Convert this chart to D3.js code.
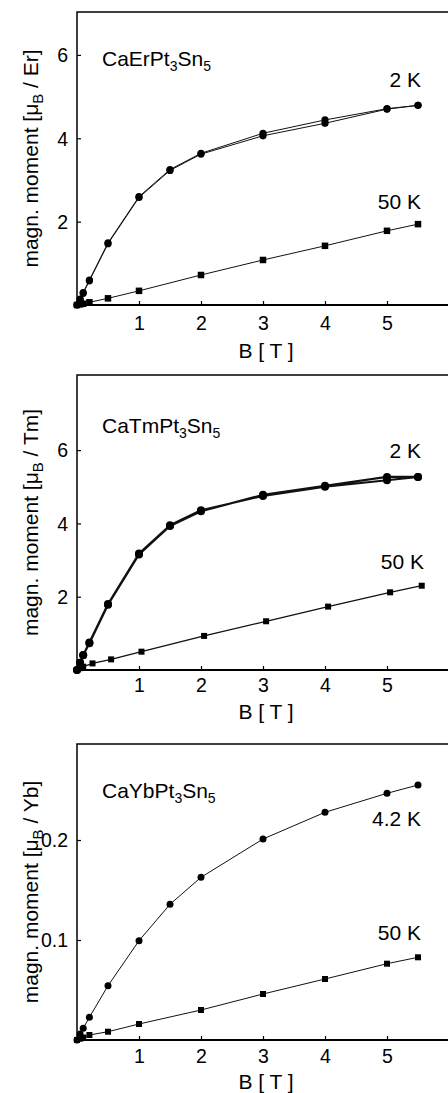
<!DOCTYPE html>
<meta charset="utf-8">
<style>
body { margin: 0; background: #fff; }
svg { display: block; }
text { font-family: "Liberation Sans", Arial, sans-serif; fill: #000; }
.axis path { display: none; }
.axis line { stroke: #000; stroke-width: 1.2; }
.axis text { font-size: 19.5px; }
</style>
<svg width="448" height="1093"></svg>
<script src="https://cdn.jsdelivr.net/npm/d3@7/dist/d3.min.js"></script>
<script>

// ---- data ----
// CaErPt3Sn5
var erUpB = [0, 0.05, 0.1, 0.2, 0.5, 1, 1.5, 2, 3, 4, 5, 5.5];
var erUp2K = [0, 0.12, 0.28, 0.58, 1.47, 2.58, 3.23, 3.62, 4.06, 4.36, 4.70, 4.79];
var erDownB = [5.5, 5, 4, 3, 2, 1.5, 1, 0.5, 0.2, 0.1, 0.05, 0];
var erDown2K = [4.79, 4.71, 4.44, 4.12, 3.64, 3.25, 2.60, 1.49, 0.60, 0.30, 0.14, 0];
var er50B = [0, 0.05, 0.1, 0.2, 0.5, 1, 2, 3, 4, 5, 5.5];
var er50K = [0, 0.015, 0.03, 0.065, 0.16, 0.34, 0.72, 1.08, 1.42, 1.78, 1.94];

// CaTmPt3Sn5
var tmUpB = [0, 0.05, 0.1, 0.2, 0.5, 1, 1.5, 2, 3, 4, 5, 5.5];
var tmUp2K = [0, 0.2, 0.41, 0.75, 1.80, 3.18, 3.95, 4.36, 4.75, 5.00, 5.18, 5.27];
var tmDownB = [5.5, 5, 4, 3, 2, 1.5, 1, 0.5, 0.2, 0.1, 0.05, 0];
var tmDown2K = [5.27, 5.27, 5.03, 4.78, 4.33, 3.93, 3.15, 1.78, 0.73, 0.40, 0.2, 0];
var tm50B = [0, 0.05, 0.1, 0.25, 0.55, 1.04, 2.05, 3.05, 4.05, 5.05, 5.56];
var tm50K = [0, 0.05, 0.09, 0.18, 0.29, 0.50, 0.93, 1.33, 1.73, 2.12, 2.30];

// CaYbPt3Sn5
var yb42B = [0, 0.05, 0.1, 0.2, 0.5, 1, 1.5, 2, 3, 4, 5, 5.5];
var yb42K = [0, 0.006, 0.0117, 0.0227, 0.0543, 0.0993, 0.1357, 0.1627, 0.201, 0.2277, 0.2467, 0.255];
var yb50B = [0, 0.05, 0.1, 0.2, 0.5, 1, 2, 3, 4, 5, 5.5];
var yb50K = [0, 0.0013, 0.0025, 0.005, 0.0083, 0.016, 0.030, 0.046, 0.061, 0.0763, 0.0827];

var xTicks = [1, 2, 3, 4, 5];
var yTicksEr = [2, 4, 6];
var yTicksTm = [2, 4, 6];
var yTicksYb = [0.1, 0.2];

function zip(b, m) {
  return b.map(function (d, i) { return [d, m[i]]; });
}

var svg = d3.select("svg");

var x = d3.scaleLinear().domain([0, 6]).range([77, 449]);

var panels = [
  { top: 12, bottom: 305, ymax: 7.03, ticks: yTicksEr, fmt: d3.format("d"),
    ion: "Er", tickOff: 25, titleOff: 53, lw: 1, r: 3.6, sq: 6.5,
    series: [
      { pts: zip(erUpB, erUp2K).concat(zip(erDownB, erDown2K)), mark: "circle" },
      { pts: zip(er50B, er50K), mark: "square" }
    ],
    labels: [{ t: "2 K", x: 421, y: 87 }, { t: "50 K", x: 421, y: 209 }],
    name: { x: 102, y: 66 } },
  { top: 375, bottom: 670, ymax: 8.05, ticks: yTicksTm, fmt: d3.format("d"),
    ion: "Tm", tickOff: 22, titleOff: 49, lw: 2.1, r: 4, sq: 6,
    series: [
      { pts: zip(tmUpB, tmUp2K).concat(zip(tmDownB, tmDown2K)), mark: "circle" },
      { pts: zip(tm50B, tm50K), mark: "square", lw: 1.3 }
    ],
    labels: [{ t: "2 K", x: 421, y: 458 }, { t: "50 K", x: 424, y: 569 }],
    name: { x: 102, y: 433 } },
  { top: 744, bottom: 1040, ymax: 0.296, ticks: yTicksYb, fmt: d3.format(".1f"),
    ion: "Yb", tickOff: 23, titleOff: 49, lw: 1, r: 3.5, sq: 6,
    series: [
      { pts: zip(yb42B, yb42K), mark: "circle" },
      { pts: zip(yb50B, yb50K), mark: "square" }
    ],
    labels: [{ t: "4.2 K", x: 421, y: 826 }, { t: "50 K", x: 421, y: 940 }],
    name: { x: 102, y: 798 } }
];

var compound = { Er: ["CaErPt", "3", "Sn", "5"], Tm: ["CaTmPt", "3", "Sn", "5"], Yb: ["CaYbPt", "3", "Sn", "5"] };

panels.forEach(function (p) {
  var y = d3.scaleLinear().domain([0, p.ymax]).range([p.bottom, p.top]);
  var g = svg.append("g");

  // axes with inward ticks
  var ax = g.append("g").attr("class", "axis")
    .attr("transform", "translate(0," + p.bottom + ")")
    .call(d3.axisBottom(x).tickValues(xTicks).tickFormat(d3.format("d"))
      .tickSizeInner(-4).tickSizeOuter(0));
  ax.selectAll("text").attr("y", p.tickOff).attr("dy", 0);

  var ay = g.append("g").attr("class", "axis")
    .attr("transform", "translate(" + x(0) + ",0)")
    .call(d3.axisLeft(y).tickValues(p.ticks).tickFormat(p.fmt).tickSizeInner(-4).tickSizeOuter(0));
  ay.selectAll("text").attr("x", -9).attr("dy", "0.35em");

  // frame: left, top, bottom (right side cut off by the image edge)
  g.append("path")
    .attr("d", "M" + (x(6) + 2) + "," + y(p.ymax) + "H" + x(0) + "V" + y(0) + "H" + (x(6) + 2))
    .attr("fill", "none").attr("stroke", "#000").attr("stroke-width", 1.5);
  g.append("line")
    .attr("x1", x(0)).attr("x2", x(6) + 2).attr("y1", y(0)).attr("y2", y(0))
    .attr("stroke", "#000").attr("stroke-width", 2.2);

  var line = d3.line().x(function (d) { return x(d[0]); }).y(function (d) { return y(d[1]); });

  p.series.forEach(function (s) {
    g.append("path").datum(s.pts).attr("d", line)
      .attr("fill", "none").attr("stroke", "#111")
      .attr("stroke-width", s.lw || p.lw).attr("stroke-linejoin", "round");
    if (s.mark === "circle") {
      g.selectAll(null).data(s.pts).enter().append("circle")
        .attr("cx", function (d) { return x(d[0]); })
        .attr("cy", function (d) { return y(d[1]); })
        .attr("r", p.r).attr("fill", "#000");
    } else {
      g.selectAll(null).data(s.pts).enter().append("rect")
        .attr("x", function (d) { return x(d[0]) - p.sq / 2; })
        .attr("y", function (d) { return y(d[1]) - p.sq / 2; })
        .attr("width", p.sq).attr("height", p.sq).attr("fill", "#000");
    }
  });

  // temperature labels
  p.labels.forEach(function (l) {
    g.append("text").attr("x", l.x).attr("y", l.y)
      .attr("text-anchor", "end").style("font-size", "21px").text(l.t);
  });

  // compound name with subscripts
  var c = compound[p.ion];
  var nt = g.append("text").attr("x", p.name.x).attr("y", p.name.y).style("font-size", "21px");
  nt.append("tspan").text(c[0]);
  nt.append("tspan").attr("dy", 5).style("font-size", "14px").text(c[1]);
  nt.append("tspan").attr("dy", -5).text(c[2]);
  nt.append("tspan").attr("dy", 5).style("font-size", "14px").text(c[3]);

  // axis titles
  g.append("text").attr("x", 266).attr("y", p.bottom + p.titleOff)
    .attr("text-anchor", "middle").style("font-size", "21px").text("B [ T ]");

  var yl = g.append("text")
    .attr("transform", "translate(38," + ((p.top + p.bottom) / 2) + ") rotate(-90)")
    .attr("text-anchor", "middle").style("font-size", "21px");
  yl.append("tspan").text("magn. moment [\u03bc");
  yl.append("tspan").attr("dy", 5).style("font-size", "15px").text("B");
  yl.append("tspan").attr("dy", -5).text(" / " + p.ion + "]");
});

</script>
